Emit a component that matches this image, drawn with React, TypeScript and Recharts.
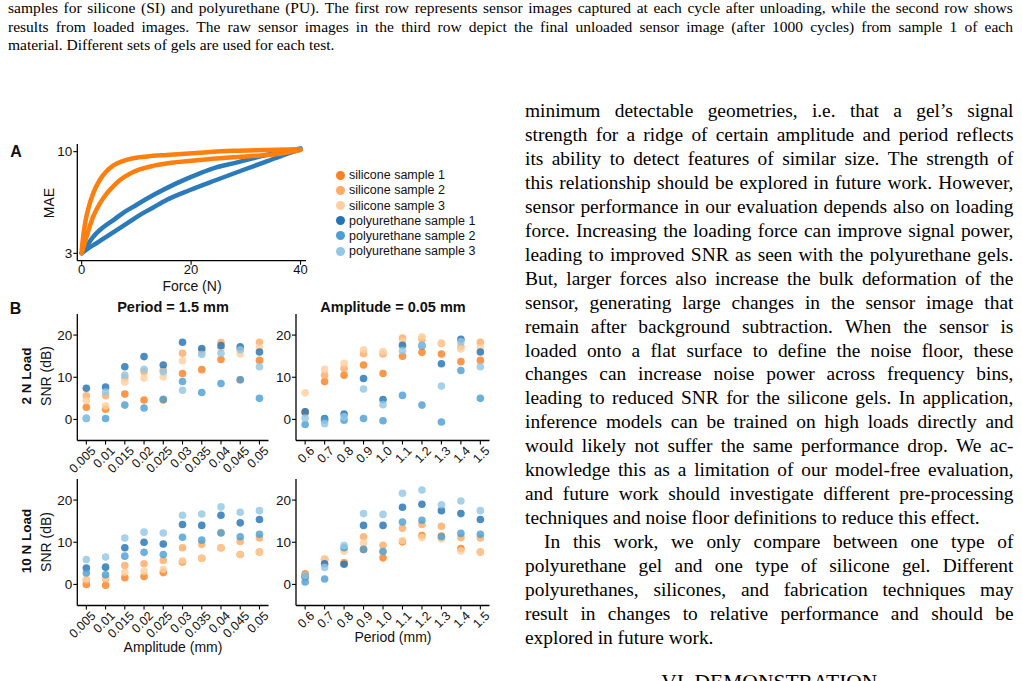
import React from "react";
import { ComposedChart, Line, ScatterChart, Scatter, XAxis, YAxis } from "recharts";

const SANS = '"Liberation Sans", Arial, Helvetica, sans-serif';
const SERIF = '"Liberation Serif", "Times New Roman", serif';

// tail of the previous figure's caption
const captionLines = [
  "samples for silicone (SI) and polyurethane (PU). The first row represents sensor images captured at each cycle after unloading, while the second row shows",
  "results from loaded images. The raw sensor images in the third row depict the final unloaded sensor image (after 1000 cycles) from sample 1 of each",
  "material. Different sets of gels are used for each test.",
];

// right-hand column; "last" lines close a paragraph, "indent" opens one
const bodyLines = [
  { text: "minimum detectable geometries, i.e. that a gel\u2019s signal" },
  { text: "strength for a ridge of certain amplitude and period reflects" },
  { text: "its ability to detect features of similar size. The strength of" },
  { text: "this relationship should be explored in future work. However," },
  { text: "sensor performance in our evaluation depends also on loading" },
  { text: "force. Increasing the loading force can improve signal power," },
  { text: "leading to improved SNR as seen with the polyurethane gels." },
  { text: "But, larger forces also increase the bulk deformation of the" },
  { text: "sensor, generating large changes in the sensor image that" },
  { text: "remain after background subtraction. When the sensor is" },
  { text: "loaded onto a flat surface to define the noise floor, these" },
  { text: "changes can increase noise power across frequency bins," },
  { text: "leading to reduced SNR for the silicone gels. In application," },
  { text: "inference models can be trained on high loads directly and" },
  { text: "would likely not suffer the same performance drop. We ac-" },
  { text: "knowledge this as a limitation of our model-free evaluation," },
  { text: "and future work should investigate different pre-processing" },
  { text: "techniques and noise floor definitions to reduce this effect.", last: true },
  { text: "In this work, we only compare between one type of", indent: true },
  { text: "polyurethane gel and one type of silicone gel. Different" },
  { text: "polyurethanes, silicones, and fabrication techniques may" },
  { text: "result in changes to relative performance and should be" },
  { text: "explored in future work.", last: true },
];
const sectionHeading = "VI. DEMONSTRATION";

// panel A: MAE vs force, two branches per material [force N, MAE]
const siliconeUpper: [number, number][] = [
  [0, 3.1], [0.3, 3.7], [0.7, 4.4], [1.3, 5.2], [2.1, 6.1], [3.3, 7.15], [4.5, 7.9],
  [5.8, 8.5], [7.5, 8.95], [9.4, 9.25], [12, 9.45], [15.5, 9.62], [21.6, 9.88],
  [27.7, 10.1], [33.7, 10.2], [40, 10.3],
];
const siliconeLower: [number, number][] = [
  [0, 3.0], [0.9, 3.66], [2.1, 4.63], [3.3, 5.4], [4.6, 6.1], [5.8, 6.65], [7, 7.15],
  [8.8, 7.7], [10.6, 8.1], [13, 8.45], [15.5, 8.7], [21.6, 9.06], [27.7, 9.35],
  [33.7, 9.61], [37, 9.85], [40, 10.2],
];
const urethaneUpper: [number, number][] = [
  [0, 3.02], [1, 3.3], [2.1, 3.65], [4, 4.1], [5.8, 4.45], [7.6, 4.85], [9.4, 5.2],
  [13.1, 5.98], [17.3, 6.87], [21.6, 7.74], [24.6, 8.3], [27.7, 8.71], [30.7, 9.15],
  [33.7, 9.61], [38.6, 10.2], [40, 10.4],
];
const urethaneLower: [number, number][] = [
  [0, 3.0], [1.3, 3.2], [2.7, 3.38], [4.5, 3.65], [6.4, 3.95], [8.5, 4.32], [10.6, 4.72],
  [13, 5.15], [15.5, 5.64], [19.8, 6.35], [24.6, 7.15], [29.5, 8.05], [33.7, 8.89],
  [37.4, 9.72], [40, 10.28],
];

// panel B
const sampleNames = [
  "silicone sample 1",
  "silicone sample 2",
  "silicone sample 3",
  "polyurethane sample 1",
  "polyurethane sample 2",
  "polyurethane sample 3",
];
const sampleColors = ["#fd8022", "#fdab67", "#fdd09f", "#2373b5", "#4c9fd3", "#93c7e4"];

const amplitudeTicks = ["0.005", "0.01", "0.015", "0.02", "0.025", "0.03", "0.035", "0.04", "0.045", "0.05"];
const periodTicks = ["0.6", "0.7", "0.8", "0.9", "1.0", "1.1", "1.2", "1.3", "1.4", "1.5"];

// SNR (dB); one row per sample, in sampleNames order
const snr2NAmplitude = [
  [2.9, 2.4, 6.0, 4.6, 4.6, 10.9, 11.8, 14.2, 9.4, 14.0],
  [5.6, 5.6, 9.9, 11.3, 11.7, 15.7, 16.3, 18.2, 16.7, 18.3],
  [4.5, 3.2, 8.9, 9.8, 10.1, 13.9, 15.9, 16.8, 15.5, 17.0],
  [7.4, 7.7, 12.5, 14.9, 12.9, 18.3, 16.8, 17.5, 17.2, 16.0],
  [0.2, 0.2, 3.4, 2.7, 4.8, 9.0, 6.4, 8.5, 9.4, 5.0],
  [0.3, 6.5, 10.5, 11.9, 11.3, 6.9, 15.4, 15.7, 16.5, 12.5],
];
const snr2NPeriod = [
  [1.6, 9.0, 10.5, 12.9, 10.9, 15.0, 15.9, 15.5, 13.7, 14.0],
  [1.8, 10.5, 12.1, 15.6, 15.5, 19.3, 19.0, 18.0, 17.3, 18.3],
  [6.3, 11.9, 13.3, 16.5, 16.1, 18.4, 19.6, 18.1, 16.7, 17.0],
  [1.8, 0.2, 1.3, 9.7, 4.7, 17.6, 17.5, 13.2, 19.0, 16.0],
  [-1.2, -0.2, -0.2, 0.2, -0.3, 5.7, 3.4, -0.6, 11.6, 5.0],
  [0.3, -1.0, 0.6, 7.2, 3.5, 16.3, 17.6, 7.9, 18.4, 12.5],
];
const snr10NAmplitude = [
  [0.0, -0.2, 1.6, 1.9, 2.8, 5.3, 6.2, 8.7, 7.1, 7.7],
  [1.0, 1.3, 4.5, 4.9, 5.7, 8.7, 9.5, 12.3, 10.2, 11.0],
  [1.3, 1.6, 2.9, 3.1, 3.6, 5.6, 6.2, 8.7, 7.1, 7.7],
  [3.9, 4.1, 8.7, 10.0, 9.6, 14.2, 14.0, 16.4, 14.6, 15.4],
  [2.7, 2.3, 6.7, 7.6, 7.1, 11.2, 10.5, 12.2, 11.3, 11.9],
  [5.9, 6.5, 11.0, 12.4, 12.2, 16.4, 16.7, 18.4, 17.1, 17.5],
];
const snr10NPeriod = [
  [2.5, 5.9, 5.1, 8.3, 6.3, 10.1, 11.6, 11.5, 8.5, 7.7],
  [1.7, 5.9, 5.1, 11.3, 9.3, 13.3, 14.2, 13.8, 11.1, 11.0],
  [1.7, 6.1, 7.9, 9.8, 7.8, 10.4, 11.1, 10.8, 7.9, 7.7],
  [1.9, 4.9, 4.8, 14.0, 14.0, 18.3, 19.0, 17.5, 16.8, 15.4],
  [0.6, 1.3, 8.7, 8.3, 7.8, 14.8, 15.2, 11.3, 12.1, 11.9],
  [2.1, 4.0, 9.2, 16.8, 16.6, 21.6, 22.4, 18.9, 19.8, 17.5],
];

const axisLine = { stroke: "#000", strokeWidth: 1.3 };
const tickLine = { stroke: "#000", strokeWidth: 1.1 };
const numTick = { fontSize: 13.5, fontFamily: SANS, fill: "#111" };

function TextRow({ text, left, width, baseline, size, justify, indent = 0 }: any) {
  const style: React.CSSProperties = {
    position: "absolute",
    left: left + indent,
    top: baseline - 0.8375 * size,
    width: width - indent,
    height: size,
    fontFamily: SERIF,
    fontSize: size,
    lineHeight: `${size}px`,
    whiteSpace: "nowrap",
  };
  if (!justify) return <div style={style}>{text}</div>;
  const words = text.split(" ");
  return (
    <div style={{ ...style, display: "flex", justifyContent: "space-between" }}>
      {words.map((w: string, i: number) => (
        <span key={i}>
          {w}
          {i < words.length - 1 ? " " : ""}
        </span>
      ))}
    </div>
  );
}

// text placed by its centre, optionally turned to run upwards
function Label({ x, y, children, size = 14, bold = false, vertical = false }: any) {
  return (
    <div
      style={{
        position: "absolute",
        left: x,
        top: y,
        transform: `translate(-50%, -50%)${vertical ? " rotate(-90deg)" : ""}`,
        fontFamily: SANS,
        fontSize: size,
        fontWeight: bold ? 700 : 400,
        lineHeight: 1,
        whiteSpace: "nowrap",
        color: "#111",
      }}
    >
      {children}
    </div>
  );
}

function SlantTick(props: any) {
  const { x, y, payload, labels } = props;
  const ax = x + 10;
  const ay = y + 5;
  return (
    <text
      x={ax}
      y={ay}
      transform={`rotate(-45 ${ax} ${ay})`}
      textAnchor="end"
      fontSize={12.5}
      fontFamily={SANS}
      fill="#111"
    >
      {labels[payload.value]}
    </text>
  );
}

const toPoints = (pts: [number, number][]) => pts.map(([force, mae]) => ({ force, mae }));

function MaeChart() {
  const curves = [
    { pts: urethaneLower, color: "#2b7bba" },
    { pts: urethaneUpper, color: "#2b7bba" },
    { pts: siliconeLower, color: "#ff7f0e" },
    { pts: siliconeUpper, color: "#ff7f0e" },
  ];
  return (
    <div style={{ position: "absolute", left: 0, top: 130 }}>
      <ComposedChart width={320} height={170} margin={{ top: 14, right: 14, bottom: 0, left: 0 }}>
        <XAxis
          type="number"
          dataKey="force"
          domain={[-0.8, 41]}
          ticks={[0, 20, 40]}
          allowDataOverflow
          height={39.3}
          tickSize={4}
          tickMargin={0}
          axisLine={axisLine}
          tickLine={tickLine}
          tick={{ ...numTick, fontSize: 13 }}
        />
        <YAxis
          type="number"
          dataKey="mae"
          scale="log"
          domain={[2.75, 10.95]}
          ticks={[3, 10]}
          allowDataOverflow
          width={77.3}
          tickSize={4}
          tickMargin={1}
          axisLine={axisLine}
          tickLine={tickLine}
          tick={numTick}
        />
        {curves.map((c, i) => (
          <Line
            key={i}
            data={toPoints(c.pts)}
            dataKey="mae"
            type="monotone"
            stroke={c.color}
            strokeWidth={4.5}
            strokeLinecap="round"
            dot={false}
            isAnimationActive={false}
          />
        ))}
      </ComposedChart>
    </div>
  );
}

function SnrChart({ left, top, values, labels, yWidth, rightPad }: any) {
  const series = sampleNames.map((_, i) =>
    labels.map((_l: string, j: number) => ({ idx: j, snr: values[i][j] }))
  );
  return (
    <div style={{ position: "absolute", left, top }}>
      <ScatterChart width={280} height={190} margin={{ top: 14, right: rightPad, bottom: 0, left: 0 }}>
        <XAxis
          type="number"
          dataKey="idx"
          domain={[-0.47, 9.47]}
          ticks={[0, 1, 2, 3, 4, 5, 6, 7, 8, 9]}
          interval={0}
          allowDataOverflow
          height={49.5}
          tickSize={4}
          tickMargin={2}
          axisLine={axisLine}
          tickLine={tickLine}
          tick={(p: any) => <SlantTick {...p} labels={labels} />}
        />
        <YAxis
          type="number"
          dataKey="snr"
          domain={[-5, 25]}
          ticks={[0, 10, 20]}
          allowDataOverflow
          width={yWidth}
          tickSize={4}
          tickMargin={1}
          axisLine={axisLine}
          tickLine={tickLine}
          tick={numTick}
        />
        {series.map((d, i) => (
          <Scatter
            key={sampleNames[i]}
            name={sampleNames[i]}
            data={d}
            isAnimationActive={false}
            shape={(p: any) => (
              <circle cx={p.cx} cy={p.cy} r={3.8} fill={sampleColors[i]} fillOpacity={0.82} />
            )}
          />
        ))}
      </ScatterChart>
    </div>
  );
}

function SampleLegend() {
  return (
    <>
      {sampleNames.map((name, i) => (
        <div
          key={name}
          style={{
            position: "absolute",
            left: 336,
            top: 175.3 + i * 15.15 - 7,
            height: 14,
            display: "flex",
            alignItems: "center",
            fontFamily: SANS,
            fontSize: 12.5,
            color: "#111",
            whiteSpace: "nowrap",
          }}
        >
          <span
            style={{
              width: 9,
              height: 9,
              borderRadius: "50%",
              background: sampleColors[i],
              marginRight: 4,
              display: "inline-block",
            }}
          />
          {name}
        </div>
      ))}
    </>
  );
}

export default function App() {
  const bodySize = 19.4;
  return (
    <div
      style={{
        position: "absolute",
        left: 0,
        top: 0,
        width: 1022,
        height: 681,
        overflow: "hidden",
        background: "#fff",
        color: "#000",
      }}
    >
      {captionLines.map((t, i) => (
        <TextRow
          key={i}
          text={t}
          left={8}
          width={1005}
          baseline={13.2 + i * 18.6}
          size={15.5}
          justify={i < captionLines.length - 1}
        />
      ))}

      {bodyLines.map((l, i) => (
        <TextRow
          key={i}
          text={l.text}
          left={525}
          width={488.5}
          baseline={117.5 + i * 23.93}
          size={bodySize}
          justify={!l.last}
          indent={l.indent ? 19 : 0}
        />
      ))}
      <div
        style={{
          position: "absolute",
          left: 525,
          width: 488.5,
          top: 690 - 0.8375 * 21.5,
          fontFamily: SERIF,
          fontSize: 21.5,
          lineHeight: "21.5px",
          textAlign: "center",
          whiteSpace: "nowrap",
        }}
      >
        {sectionHeading}
      </div>

      {/* A: MAE vs force */}
      <Label x={16} y={152} size={16} bold>A</Label>
      <MaeChart />
      <Label x={49} y={203} vertical>MAE</Label>
      <Label x={192} y={285.5}>Force (N)</Label>
      <SampleLegend />

      {/* B: SNR grids */}
      <Label x={15.5} y={308.7} size={16} bold>B</Label>
      <Label x={173} y={307} size={14.5} bold>Period = 1.5 mm</Label>
      <Label x={393} y={307} size={14.5} bold>Amplitude = 0.05 mm</Label>

      <SnrChart left={0} top={300} values={snr2NAmplitude} labels={amplitudeTicks} yWidth={77.3} rightPad={11.5} />
      <SnrChart left={220} top={300} values={snr2NPeriod} labels={periodTicks} yWidth={76} rightPad={10.5} />
      <SnrChart left={0} top={465} values={snr10NAmplitude} labels={amplitudeTicks} yWidth={77.3} rightPad={11.5} />
      <SnrChart left={220} top={465} values={snr10NPeriod} labels={periodTicks} yWidth={76} rightPad={10.5} />

      <Label x={27} y={376} size={13.5} bold vertical>2 N Load</Label>
      <Label x={46} y={376} vertical>SNR (dB)</Label>
      <Label x={27} y={541} size={13.5} bold vertical>10 N Load</Label>
      <Label x={46} y={542} vertical>SNR (dB)</Label>
      <Label x={173} y={647}>Amplitude (mm)</Label>
      <Label x={393} y={637}>Period (mm)</Label>
    </div>
  );
}
